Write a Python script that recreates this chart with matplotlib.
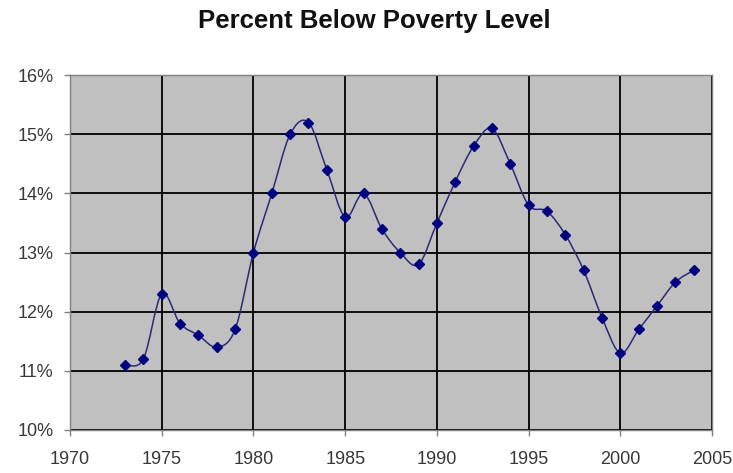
import numpy as np
import matplotlib
matplotlib.use('Agg')
import matplotlib.pyplot as plt
from matplotlib.path import Path
from matplotlib.patches import PathPatch
from matplotlib.ticker import FuncFormatter

plt.rcParams['font.family'] = ['Liberation Sans', 'DejaVu Sans']

years = list(range(1973, 2005))
percent = [11.1, 11.2, 12.3, 11.8, 11.6, 11.4, 11.7, 13.0, 14.0, 15.0, 15.2,
           14.4, 13.6, 14.0, 13.4, 13.0, 12.8, 13.5, 14.2, 14.8, 15.1, 14.5,
           13.8, 13.7, 13.3, 12.7, 11.9, 11.3, 11.7, 12.1, 12.5, 12.7]
x_ticks = [1970, 1975, 1980, 1985, 1990, 1995, 2000, 2005]
y_ticks = [10, 11, 12, 13, 14, 15, 16]


def smooth_path(x, y, t=1.0 / 6):
    # Excel-style smoothed line: cubic bezier through each point
    pts = np.column_stack([x, y]).astype(float)
    n = len(pts)
    verts = [pts[0]]
    codes = [Path.MOVETO]
    for i in range(n - 1):
        p0 = pts[i - 1] if i > 0 else pts[i]
        p1 = pts[i]
        p2 = pts[i + 1]
        p3 = pts[i + 2] if i + 2 < n else pts[i + 1]
        verts += [p1 + (p2 - p0) * t, p2 - (p3 - p1) * t, p2]
        codes += [Path.CURVE4] * 3
    return Path(verts, codes)


fig = plt.figure(figsize=(7.33, 4.73), dpi=100)
ax = fig.add_axes([0.0955, 0.091, 0.876, 0.750])
ax.set_facecolor('#c0c0c0')

ax.add_patch(PathPatch(smooth_path(years, percent), fill=False,
                       edgecolor='#2a2a78', lw=1.1, zorder=3))
ax.plot(years, percent, linestyle='none', marker='D', markersize=5,
        color='#000080', zorder=4)

ax.set_xlim(1970, 2005)
ax.set_ylim(10, 16)
ax.set_xticks(x_ticks)
ax.set_yticks(y_ticks)
ax.yaxis.set_major_formatter(FuncFormatter(lambda v, p: '%d%%' % v))
ax.grid(True, color='black', lw=1.3)
ax.set_axisbelow(True)
for s in ax.spines.values():
    s.set_color('#808080')
    s.set_linewidth(1.0)
ax.tick_params(colors='#808080', length=4, width=1, labelcolor='#383838',
               labelsize=13)
ax.tick_params(axis='x', pad=11)
ax.tick_params(axis='y', pad=8)

fig.text(0.511, 0.955, 'Percent Below Poverty Level', ha='center',
         va='center', fontsize=18.5, fontweight='bold', color='#111111')

fig.savefig('out.png', dpi=100)
